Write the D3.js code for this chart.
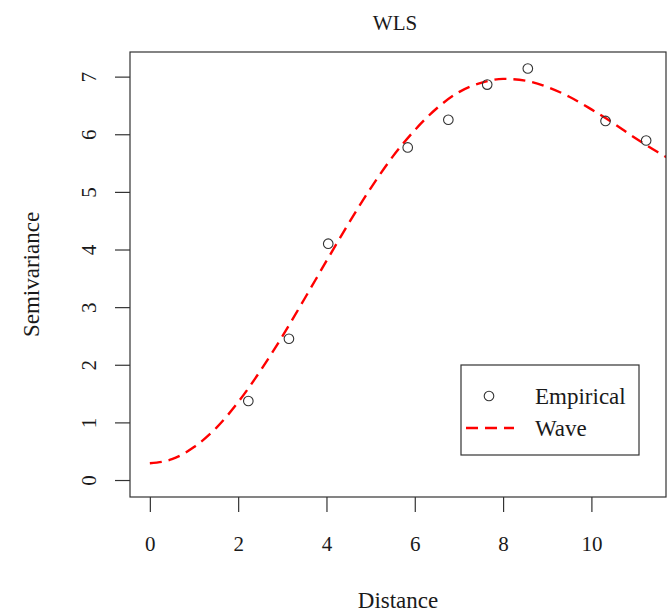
<!DOCTYPE html>
<html lang="en">
<head>
<meta charset="UTF-8">
<title>WLS</title>
<script src="https://cdnjs.cloudflare.com/ajax/libs/d3/7.8.5/d3.min.js"></script>
<style>
	body { margin: 0; background: #fff; }
	svg { display: block; }
	text { font-family: "Liberation Serif", "Times New Roman", serif; fill: #1a1a1a; }
</style>
</head>
<body>
<svg id="chart" width="669" height="614"></svg>
<script>

	// empirical semivariogram
	var empDist = [2.23, 3.15, 4.04, 5.84, 6.76, 7.64, 8.56, 10.32, 11.24];
	var empGamma = [1.38, 2.46, 4.11, 5.78, 6.26, 6.87, 7.15, 6.24, 5.90];

	// fitted wave model
	var waveDist = [0, 0.5, 1, 1.5, 2, 2.5, 3, 3.5, 4, 4.5, 5, 5.5, 6, 6.5, 7, 7.5, 8, 8.5, 9, 9.5, 10, 10.5, 11, 11.5, 12];
	var waveGamma = [0.30, 0.37, 0.58, 0.91, 1.36, 1.90, 2.50, 3.15, 3.81, 4.46, 5.07, 5.62, 6.08, 6.46, 6.74, 6.90, 6.97, 6.94, 6.83, 6.66, 6.44, 6.20, 5.94, 5.70, 5.48];

	var xTicks = [0, 2, 4, 6, 8, 10];
	var yTicks = [0, 1, 2, 3, 4, 5, 6, 7];

	var legendLabels = ["Empirical", "Wave"];

	// plot region (window.top is reserved, so no "top" here)
	var pLeft = 130, pRight = 666, pTop = 52, pBottom = 497;

	var svg = d3.select("#chart");

	// R style 4% padding
	var xMax = d3.max(empDist), yMax = d3.max(empGamma);
	var x = d3.scaleLinear()
			.domain([-0.04 * xMax, xMax * 1.04])
			.range([pLeft, pRight]);
	var y = d3.scaleLinear()
			.domain([-0.04 * yMax, yMax * 1.04])
			.range([pBottom, pTop]);

	svg.append("clipPath")
			.attr("id", "plotClip")
		.append("rect")
			.attr("x", pLeft)
			.attr("y", pTop)
			.attr("width", pRight - pLeft)
			.attr("height", pBottom - pTop);

	var curve = waveDist.map(function (d, i) { return [d, waveGamma[i]]; });

	svg.append("path")
			.datum(curve)
			.attr("clip-path", "url(#plotClip)")
			.attr("fill", "none")
			.attr("stroke", "#ff0000")
			.attr("stroke-width", 2.4)
			.attr("stroke-dasharray", "12,7")
			.attr("d", d3.line()
					.x(function (d) { return x(d[0]); })
					.y(function (d) { return y(d[1]); })
					.curve(d3.curveMonotoneX));

	svg.selectAll("circle.emp")
			.data(empDist)
			.enter()
			.append("circle")
			.attr("class", "emp")
			.attr("cx", function (d) { return x(d); })
			.attr("cy", function (d, i) { return y(empGamma[i]); })
			.attr("r", 4.8)
			.attr("fill", "none")
			.attr("stroke", "#333")
			.attr("stroke-width", 1.1);

	// box
	svg.append("rect")
			.attr("x", pLeft)
			.attr("y", pTop)
			.attr("width", pRight - pLeft)
			.attr("height", pBottom - pTop)
			.attr("fill", "none")
			.attr("stroke", "#333")
			.attr("stroke-width", 1.2);

	// axes
	var xAxis = d3.axisBottom(x)
			.tickValues(xTicks)
			.tickSize(15)
			.tickPadding(24)
			.tickFormat(d3.format("d"));
	var gx = svg.append("g")
			.attr("transform", "translate(0," + pBottom + ")")
			.call(xAxis);
	gx.select(".domain").attr("stroke", "none");
	gx.selectAll("line").attr("stroke", "#333").attr("stroke-width", 1.2);
	gx.selectAll("text")
			.attr("font-size", 21)
			.attr("font-family", "Liberation Serif")
			.attr("fill", "#1a1a1a");

	var gy = svg.append("g");
	gy.selectAll("line")
			.data(yTicks)
			.enter()
			.append("line")
			.attr("x1", pLeft - 15)
			.attr("x2", pLeft)
			.attr("y1", function (d) { return y(d); })
			.attr("y2", function (d) { return y(d); })
			.attr("stroke", "#333")
			.attr("stroke-width", 1.2);
	gy.selectAll("text")
			.data(yTicks)
			.enter()
			.append("text")
			.attr("transform", function (d) { return "translate(96," + y(d) + ") rotate(-90)"; })
			.attr("text-anchor", "middle")
			.attr("font-size", 21)
			.text(function (d) { return d; });

	// titles
	svg.append("text")
			.attr("x", (pLeft + pRight) / 2 - 3)
			.attr("y", 30)
			.attr("text-anchor", "middle")
			.attr("font-size", 21)
			.text("WLS");
	svg.append("text")
			.attr("x", (pLeft + pRight) / 2)
			.attr("y", 608)
			.attr("text-anchor", "middle")
			.attr("font-size", 23)
			.text("Distance");
	svg.append("text")
			.attr("transform", "translate(39," + (pTop + pBottom) / 2 + ") rotate(-90)")
			.attr("text-anchor", "middle")
			.attr("font-size", 23)
			.text("Semivariance");

	// legend
	var lg = svg.append("g");
	lg.append("rect")
			.attr("x", 461)
			.attr("y", 365)
			.attr("width", 178)
			.attr("height", 90)
			.attr("fill", "#fff")
			.attr("stroke", "#333")
			.attr("stroke-width", 1.2);
	lg.append("circle")
			.attr("cx", 489)
			.attr("cy", 396)
			.attr("r", 4.8)
			.attr("fill", "none")
			.attr("stroke", "#333")
			.attr("stroke-width", 1.1);
	lg.append("line")
			.attr("x1", 466)
			.attr("x2", 514)
			.attr("y1", 428)
			.attr("y2", 428)
			.attr("stroke", "#ff0000")
			.attr("stroke-width", 2.4)
			.attr("stroke-dasharray", "12,7");
	lg.selectAll("text")
			.data(legendLabels)
			.enter()
			.append("text")
			.attr("x", 535)
			.attr("y", function (d, i) { return 404 + i * 32; })
			.attr("font-size", 23)
			.text(function (d) { return d; });

</script>
</body>
</html>
